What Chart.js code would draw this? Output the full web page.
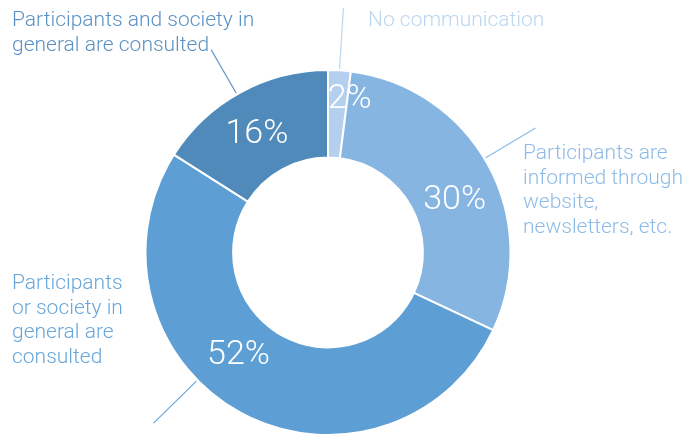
<!DOCTYPE html>
<html lang="en">
<head>
    <meta charset="UTF-8">
    <title>Communication with participants</title>
    <script src="https://cdn.jsdelivr.net/npm/chart.js"></script>
    <style>
        body {
            margin: 0;
            padding: 0;
            background: #ffffff;
        }
        .chart-wrapper {
            position: relative;
            width: 700px;
            height: 436px;
        }
    </style>
</head>
<body>
<div class="chart-wrapper">
    <canvas id="commChart"></canvas>
</div>

<script>
    const categories = [
        'No communication',
        'Participants are informed through website, newsletters, etc.',
        'Participants or society in general are consulted',
        'Participants and society in general are consulted'
    ];
    const shares = [2, 30, 52, 16];
    const sliceColors = ['#b5d0ee', '#87b5e2', '#5d9fd5', '#4f8abb'];
    const labelColors = ['#bcd6f0', '#8dbbe7', '#68a6dc', '#5b91c4'];

    // outside labels: wrapped lines, text anchor, leader angle inside slice (0..1)
    const outsideLabels = [
        { lines: ['No communication'], x: 368, y: 21, lead: 0.5, r0: 184, r1: 245 },
        { lines: ['Participants are', 'informed through', 'website,', 'newsletters, etc.'], x: 523, y: 154, lead: 0.48, r0: 184, r1: 242 },
        { lines: ['Participants', 'or society in', 'general are', 'consulted'], x: 12, y: 284, lead: 0.59, r0: 184, r1: 244 },
        { lines: ['Participants and society in', 'general are consulted'], x: 12, y: 21, lead: 0.48, r0: 184, r1: 234 }
    ];
    // inner percent labels: position inside slice (angle fraction, radius)
    const innerPos = [
        { f: 1.1, r: 157 },
        { f: 0.55, r: 138 },
        { f: 0.57, r: 134 },
        { f: 0.47, r: 140 }
    ];

    const labelPlugin = {
        id: 'labelPlugin',
        afterDraw(chart) {
            const ctx = chart.ctx;
            const arcs = chart.getDatasetMeta(0).data;
            ctx.save();
            arcs.forEach((arc, i) => {
                const a0 = arc.startAngle, a1 = arc.endAngle;
                const cx = arc.x, cy = arc.y;

                // leader line
                const o = outsideLabels[i];
                const la = a0 + (a1 - a0) * o.lead;
                ctx.beginPath();
                ctx.moveTo(cx + Math.cos(la) * o.r0, cy + Math.sin(la) * o.r0);
                ctx.lineTo(cx + Math.cos(la) * o.r1, cy + Math.sin(la) * o.r1);
                ctx.strokeStyle = labelColors[i];
                ctx.lineWidth = 1.2;
                ctx.stroke();

                // outside text
                ctx.font = '300 21px Roboto';
                ctx.fillStyle = labelColors[i];
                ctx.textAlign = 'left';
                ctx.textBaseline = 'middle';
                o.lines.forEach((line, k) => {
                    ctx.fillText(line, o.x, o.y + k * 24.5);
                });

                // percent inside slice (+3 to centre the digits optically)
                const p = innerPos[i];
                const pa = a0 + (a1 - a0) * p.f;
                ctx.font = '300 34px Roboto';
                ctx.fillStyle = '#ffffff';
                ctx.textAlign = 'center';
                ctx.fillText(shares[i] + '%', cx + Math.cos(pa) * p.r, cy + Math.sin(pa) * p.r + 3);
            });
            ctx.restore();
        }
    };

    const ctx = document.getElementById('commChart').getContext('2d');
    const commChart = new Chart(ctx, {
        type: 'doughnut',
        data: {
            labels: categories,
            datasets: [{
                data: shares,
                backgroundColor: sliceColors,
                borderColor: '#ffffff',
                borderWidth: 2
            }]
        },
        options: {
            responsive: true,
            maintainAspectRatio: false,
            animation: false,
            cutout: '52%',
            layout: {
                padding: { left: 144, right: 188, top: 69, bottom: -1 }
            },
            plugins: {
                legend: { display: false },
                tooltip: { enabled: false }
            }
        },
        plugins: [labelPlugin]
    });
</script>
</body>
</html>
